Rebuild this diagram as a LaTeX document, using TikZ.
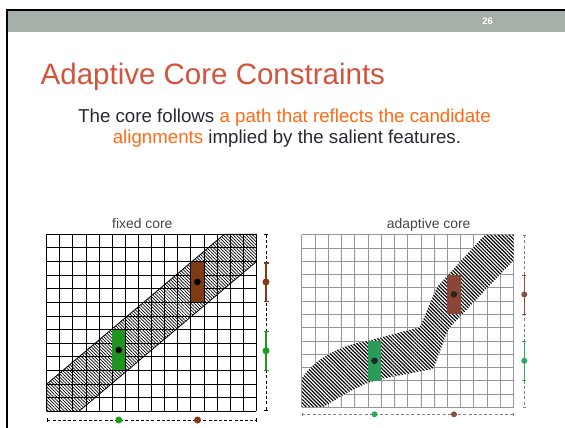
\documentclass[tikz,border=0pt]{standalone}
\usepackage{fontspec}
\setmainfont{Liberation Sans}
\usetikzlibrary{patterns.meta,arrows.meta}
\definecolor{titlered}{RGB}{211,84,60}
\definecolor{hiorange}{RGB}{255,106,20}
\definecolor{bodytext}{RGB}{40,40,52}
\definecolor{barbg}{RGB}{166,175,168}
\definecolor{labelgray}{RGB}{70,70,70}
\definecolor{fgreen}{RGB}{28,150,30}
\definecolor{fbrown}{RGB}{126,58,18}
\definecolor{agreen}{RGB}{40,156,88}
\definecolor{abrown}{RGB}{138,69,52}
\definecolor{mgreen}{RGB}{28,158,28}
\definecolor{mbrown}{RGB}{132,58,20}
\definecolor{rgreen}{RGB}{50,165,95}
\definecolor{rbrown}{RGB}{140,78,62}
\definecolor{rgrid}{RGB}{150,150,150}
\tikzset{
  gridL/.style={black, line width=0.9pt},
  gridR/.style={rgrid, line width=0.7pt},
  axisL/.style={black, line width=0.8pt, dash pattern=on 3pt off 2.2pt,
    {Bar[width=4pt,line width=0.9pt]}-{Bar[width=4pt,line width=0.9pt]}},
  axisR/.style={gray, line width=0.7pt, dash pattern=on 3pt off 2.2pt,
    {Bar[width=3.5pt,line width=0.7pt]}-{Bar[width=3.5pt,line width=0.7pt]}},
  spanL/.style={line width=1.7pt,
    {Bar[width=5pt,line width=1.2pt]}-{Bar[width=5pt,line width=1.2pt]}},
  spanR/.style={line width=1pt,
    {Bar[width=4pt,line width=0.8pt]}-{Bar[width=4pt,line width=0.8pt]}},
  dotL/.style={circle, inner sep=0pt, minimum size=7pt},
  dotR/.style={circle, inner sep=0pt, minimum size=6pt},
  featdot/.style={circle, inner sep=0pt, minimum size=6.6pt},
  caption/.style={anchor=base, inner sep=0pt, text=labelgray,
    font=\fontsize{13.9}{15}\selectfont},
}
\begin{document}
\begin{tikzpicture}[x=1pt,y=-1pt]
\useasboundingbox (0,0) rectangle (565,428);
\fill[white] (0,0) rectangle (565,428);

% slide header
\fill[barbg] (7.7,11) rectangle (565,31.7);
\draw[line width=2pt] (6.7,428) -- (6.7,10) -- (565,10);
\node[text=white, font=\fontsize{9.5}{10}\selectfont\bfseries] (pagenum) at (487.7,21.2) {26};

% title and lead text
\node[anchor=base west, inner sep=0pt, text=titlered,
  font=\fontsize{29.5}{31}\selectfont] (title) at (40.5,84.5) {Adaptive Core Constraints};
\node[anchor=base west, inner sep=0pt, text=bodytext,
  font=\fontsize{18.7}{20}\selectfont] (lead1) at (78,122)
  {The core follows \textcolor{hiorange}{a path that reflects the candidate}};
\node[anchor=base west, inner sep=0pt, text=bodytext,
  font=\fontsize{18.7}{20}\selectfont] (lead2) at (112.6,143.7)
  {\textcolor{hiorange}{alignments} implied by the salient features.};

% captions
\node[caption] (capfixed) at (142.3,228.3) {fixed core};
\node[caption] (capadapt) at (428.7,228.3) {adaptive core};

% ---------- fixed core ----------
\begin{scope}[shift={(46.7,411.3)}, x=13.11pt, y=13.615pt]
  \foreach \i in {0,...,16} \draw[gridL] (\i,0) -- (\i,13);
  \foreach \j in {0,...,13} \draw[gridL] (0,\j) -- (16,\j);
  \path[pattern={Lines[angle=-45,distance=2.3pt,line width=0.7pt]}]
    (0,0) -- (2.46,0) -- (16,11) -- (16,13) -- (13.54,13) -- (0,2) -- cycle;
  \draw[line width=0.8pt]
    (0,0) -- (2.46,0) -- (16,11) -- (16,13) -- (13.54,13) -- (0,2) -- cycle;
  \fill[fgreen] (5,3) rectangle (6,6);
  \fill[fbrown] (11,8) rectangle (12,11);
  \node[featdot, fill=black] (fg) at (5.5,4.5) {};
  \node[featdot, fill=black] (fb) at (11.5,9.5) {};
\end{scope}

% fixed core: projections on the two sequences
\coordinate (lvt) at (266,234.3);
\coordinate (lvb) at (266,411.3);
\draw[axisL] (lvt) -- (lvb);
\coordinate (lbt) at (266,262.3);
\coordinate (lbb) at (266,301.7);
\draw[spanL, mbrown] (lbt) -- (lbb);
\node[dotL, fill=mbrown] (lbdot) at (266,282) {};
\coordinate (lgt) at (266,330.7);
\coordinate (lgb) at (266,371);
\draw[spanL, mgreen] (lgt) -- (lgb);
\node[dotL, fill=mgreen] (lgdot) at (266,350.8) {};
\coordinate (lhl) at (46.7,420);
\coordinate (lhr) at (256.5,420);
\draw[axisL] (lhl) -- (lhr);
\node[dotL, fill=mgreen] (lhg) at (118.8,420) {};
\node[dotL, fill=mbrown] (lhb) at (197.5,420) {};

% ---------- adaptive core ----------
\begin{scope}[shift={(301.7,407.2)}, x=13.24pt, y=13.27pt]
  \foreach \i in {0,...,16} \draw[gridR] (\i,0) -- (\i,13);
  \foreach \j in {0,...,13} \draw[gridR] (0,\j) -- (16,\j);
  \path[fill=white, postaction={pattern={Lines[angle=-45,distance=2.6pt,line width=1.15pt]}}]
    (0,0) -- (1.64,0) .. controls (2.9,0.8) and (4.6,1.85) .. (6.05,2.14)
    [rounded corners=3pt] -- (9.95,2.89) -- (11.08,5.9) [sharp corners] -- (16,11.06)
    -- (16,13) -- (13.85,13) [rounded corners=5pt] -- (10.2,9.05) [rounded corners=3pt]
    -- (8.94,6.03) [sharp corners] -- (5,5.0)
    .. controls (3.3,4.75) and (1.0,3.8) .. (0,2.14) -- cycle;
  \fill[agreen] (5,2) rectangle (6,5);
  \fill[abrown] (11,7) rectangle (12,10);
  \node[featdot, fill=black!85] (ag) at (5.5,3.5) {};
  \node[featdot, fill=black!85] (ab) at (11.5,8.5) {};
\end{scope}

% adaptive core: projections on the two sequences
\coordinate (rvt) at (524.3,234.7);
\coordinate (rvb) at (524.3,407.2);
\draw[axisR] (rvt) -- (rvb);
\coordinate (rbt) at (524.3,274.5);
\coordinate (rbb) at (524.3,314.3);
\draw[spanR, rbrown] (rbt) -- (rbb);
\node[dotR, fill=rbrown] (rbdot) at (524.3,294.4) {};
\coordinate (rgt) at (524.3,340.9);
\coordinate (rgb) at (524.3,380.7);
\draw[spanR, rgreen] (rgt) -- (rgb);
\node[dotR, fill=rgreen] (rgdot) at (524.3,360.8) {};
\coordinate (rhl) at (301.7,414.3);
\coordinate (rhr) at (513.5,414.3);
\draw[axisR] (rhl) -- (rhr);
\node[dotR, fill=rgreen] (rhg) at (374.5,414.3) {};
\node[dotR, fill=rbrown] (rhb) at (454,414.3) {};
\end{tikzpicture}
\end{document}
